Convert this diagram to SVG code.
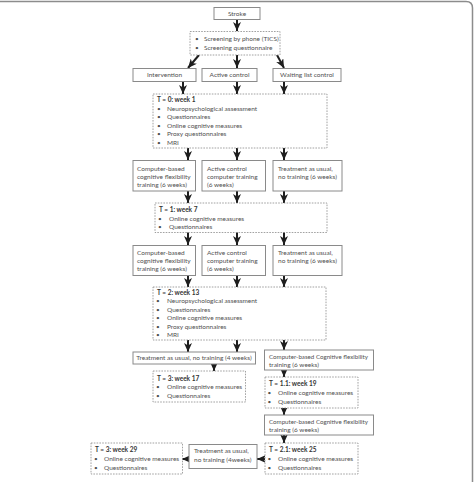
<svg xmlns="http://www.w3.org/2000/svg" width="474" height="482" viewBox="0 0 474 482">
<defs>
<style>
.t{font-family:Lato,"Open Sans","Liberation Sans",sans-serif;font-size:6.5px;fill:#505050}
.b{font-weight:bold;fill:#333}
.m{text-anchor:middle}
.s{fill:#fff;stroke:#8a8a8a;stroke-width:1}
.d{fill:#fff;stroke:#8a8a8a;stroke-width:0.8;stroke-dasharray:1.6 1.2}
.a{stroke:#1e1e1e;stroke-width:2;fill:none;marker-end:url(#ah)}
</style>
<marker id="ah" markerUnits="userSpaceOnUse" markerWidth="10" markerHeight="8" viewBox="0 0 10 8" refX="9" refY="4" orient="auto">
<path d="M0,0 L9,4 L0,8 L2.5,4 Z" fill="#1e1e1e"/>
</marker>
</defs>
<rect width="474" height="482" fill="#fff"/>
<path d="M0,1.5 H466 Q472.5,1.5 472.5,8 V482" fill="none" stroke="#8c8c8c" stroke-width="1.5"/>

<g id="connectors">
<path class="a" d="M237,19 V31"/>
<path class="a" d="M199,55 L188,68"/>
<path class="a" d="M237,55 V68"/>
<path class="a" d="M277,55 L284,68"/>
<path class="a" d="M183,82 V94"/>
<path class="a" d="M237,82 V94"/>
<path class="a" d="M284,82 V94"/>
<path class="a" d="M188,148 V160"/>
<path class="a" d="M237,148 V160"/>
<path class="a" d="M284,148 V160"/>
<path class="a" d="M188,191 V203"/>
<path class="a" d="M237,191 V203"/>
<path class="a" d="M284,191 V203"/>
<path class="a" d="M188,232 V245"/>
<path class="a" d="M237,232 V245"/>
<path class="a" d="M284,232 V245"/>
<path class="a" d="M188,275 V287"/>
<path class="a" d="M237,275 V287"/>
<path class="a" d="M284,275 V287"/>
<path class="a" d="M188,340 V352"/>
<path class="a" d="M237,340 V352"/>
<path class="a" d="M284,340 V350"/>
<path class="a" d="M214,364 V371"/>
<path class="a" d="M284,370 V377"/>
<path class="a" d="M284,408 V415"/>
<path class="a" d="M284,435 V443"/>
<path class="a" d="M265,459 H257"/>
<path class="a" d="M189,459 H182"/>
</g>

<g id="stroke">
<rect class="s" x="214" y="7.5" width="46" height="12"/>
<text class="t m" x="237" y="15.8">Stroke</text>
</g>

<g id="screening">
<rect class="d" x="190" y="31.5" width="90" height="23.5"/>
<text class="t" x="195" y="41">•</text><text class="t" x="204" y="41">Screening by phone (TICS)</text>
<text class="t" x="195" y="50">•</text><text class="t" x="204" y="50">Screening questionnaire</text>
</g>

<g id="intervention">
<rect class="s" x="133" y="68.5" width="63" height="13"/>
<text class="t m" x="164.5" y="77.3">Intervention</text>
</g>
<g id="active-control">
<rect class="s" x="202" y="68.5" width="55" height="13"/>
<text class="t m" x="229.5" y="77.3">Active control</text>
</g>
<g id="waiting-list">
<rect class="s" x="273" y="68.5" width="68" height="13"/>
<text class="t m" x="307" y="77.3">Waiting list control</text>
</g>

<g id="t0">
<rect class="d" x="153" y="94" width="174" height="54"/>
<text class="t b" x="157" y="102">T = 0: week 1</text>
<text class="t" x="157" y="110.5">•</text><text class="t" x="167" y="110.5">Neuropsychological assessment</text>
<text class="t" x="157" y="119">•</text><text class="t" x="167" y="119">Questionnaires</text>
<text class="t" x="157" y="127.5">•</text><text class="t" x="167" y="127.5">Online cognitive measures</text>
<text class="t" x="157" y="136">•</text><text class="t" x="167" y="136">Proxy questionnaires</text>
<text class="t" x="157" y="144.5">•</text><text class="t" x="167" y="144.5">MRI</text>
</g>

<g id="cbcf1">
<rect class="s" x="133" y="160.5" width="62.5" height="30.5"/>
<text class="t" x="137" y="170.5">Computer-based</text>
<text class="t" x="137" y="178.5">cognitive flexibility</text>
<text class="t" x="137" y="186.5">training (6 weeks)</text>
</g>
<g id="active1">
<rect class="s" x="202" y="160.5" width="63.5" height="30.5"/>
<text class="t" x="207" y="170.5">Active control</text>
<text class="t" x="207" y="178.5">computer training</text>
<text class="t" x="207" y="186.5">(6 weeks)</text>
</g>
<g id="tau1">
<rect class="s" x="273" y="160.5" width="69" height="30.5"/>
<text class="t" x="278" y="170.5">Treatment as usual,</text>
<text class="t" x="278" y="178.5">no training (6 weeks)</text>
</g>

<g id="t1">
<rect class="d" x="155" y="203" width="172" height="29.5"/>
<text class="t b" x="159" y="212">T = 1: week 7</text>
<text class="t" x="158" y="220.5">•</text><text class="t" x="169" y="220.5">Online cognitive measures</text>
<text class="t" x="158" y="229">•</text><text class="t" x="169" y="229">Questionnaires</text>
</g>

<g id="cbcf2">
<rect class="s" x="133" y="245.5" width="62.5" height="30"/>
<text class="t" x="137" y="254.5">Computer-based</text>
<text class="t" x="137" y="262.5">cognitive flexibility</text>
<text class="t" x="137" y="270.5">training (6 weeks)</text>
</g>
<g id="active2">
<rect class="s" x="202" y="245.5" width="63.5" height="30"/>
<text class="t" x="207" y="254.5">Active control</text>
<text class="t" x="207" y="262.5">computer training</text>
<text class="t" x="207" y="270.5">(6 weeks)</text>
</g>
<g id="tau2">
<rect class="s" x="273" y="245.5" width="69" height="30"/>
<text class="t" x="278" y="254.5">Treatment as usual,</text>
<text class="t" x="278" y="262.5">no training (6 weeks)</text>
</g>

<g id="t2">
<rect class="d" x="153" y="287" width="173" height="53"/>
<text class="t b" x="157" y="294.5">T = 2: week 13</text>
<text class="t" x="156" y="303">•</text><text class="t" x="167" y="303">Neuropsychological assessment</text>
<text class="t" x="156" y="311.5">•</text><text class="t" x="167" y="311.5">Questionnaires</text>
<text class="t" x="156" y="320">•</text><text class="t" x="167" y="320">Online cognitive measures</text>
<text class="t" x="156" y="328.5">•</text><text class="t" x="167" y="328.5">Proxy questionnaires</text>
<text class="t" x="156" y="337">•</text><text class="t" x="167" y="337">MRI</text>
</g>

<g id="tau-4w">
<rect class="s" x="133" y="352" width="122.5" height="12"/>
<text class="t m" x="194" y="360.3">Treatment as usual, no training (4 weeks)</text>
</g>

<g id="t3-17">
<rect class="d" x="153" y="371" width="92.5" height="31"/>
<text class="t b" x="157" y="380.5">T = 3: week 17</text>
<text class="t" x="156" y="389">•</text><text class="t" x="167" y="389">Online cognitive measures</text>
<text class="t" x="156" y="397.5">•</text><text class="t" x="167" y="397.5">Questionnaires</text>
</g>

<g id="cbcf-a">
<rect class="s" x="264.5" y="350" width="109" height="20"/>
<text class="t" x="269" y="358.5" textLength="99" lengthAdjust="spacingAndGlyphs">Computer-based Cognitive flexibility</text>
<text class="t" x="269" y="367">training (6 weeks)</text>
</g>

<g id="t11">
<rect class="d" x="265" y="377" width="93" height="31"/>
<text class="t b" x="269" y="386.3">T = 1.1: week 19</text>
<text class="t" x="267.5" y="395">•</text><text class="t" x="278" y="395">Online cognitive measures</text>
<text class="t" x="267.5" y="403.5">•</text><text class="t" x="278" y="403.5">Questionnaires</text>
</g>

<g id="cbcf-b">
<rect class="s" x="264.5" y="415" width="109" height="20"/>
<text class="t" x="269" y="423.5" textLength="99" lengthAdjust="spacingAndGlyphs">Computer-based Cognitive flexibility</text>
<text class="t" x="269" y="432">training (6 weeks)</text>
</g>

<g id="t21">
<rect class="d" x="265" y="443" width="93" height="31"/>
<text class="t b" x="269" y="452.3">T = 2.1: week 25</text>
<text class="t" x="267.5" y="461">•</text><text class="t" x="278" y="461">Online cognitive measures</text>
<text class="t" x="267.5" y="469.5">•</text><text class="t" x="278" y="469.5">Questionnaires</text>
</g>

<g id="tau-4weeks">
<rect class="s" x="189" y="444.5" width="68" height="24"/>
<text class="t" x="194" y="453.3">Treatment as usual,</text>
<text class="t" x="194" y="462">no training (4weeks)</text>
</g>

<g id="t3-29">
<rect class="d" x="91" y="443" width="91.5" height="31"/>
<text class="t b" x="95" y="452.3">T = 3: week 29</text>
<text class="t" x="94" y="461">•</text><text class="t" x="104" y="461">Online cognitive measures</text>
<text class="t" x="94" y="469.5">•</text><text class="t" x="104" y="469.5">Questionnaires</text>
</g>
</svg>
